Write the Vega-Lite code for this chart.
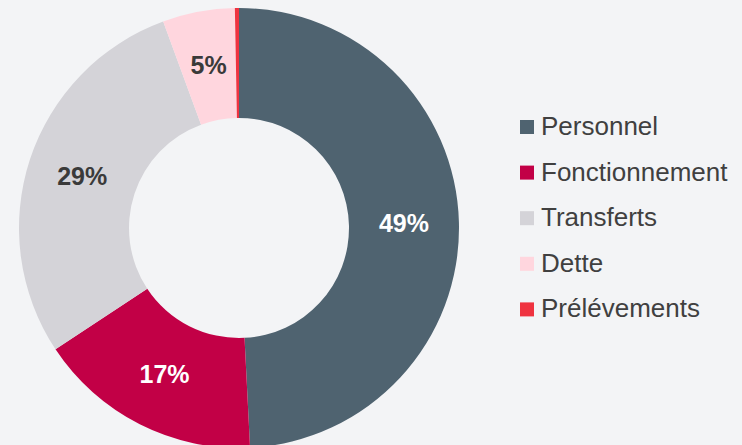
{
  "$schema": "https://vega.github.io/schema/vega-lite/v6.json",
  "autosize": "none",
  "width": 478,
  "height": 445,
  "padding": {"left": 0, "top": 0, "right": 264, "bottom": 0},
  "background": "#f3f4f6",
  "config": {"view": {"stroke": null}, "font": "Liberation Sans"},
  "data": {
    "values": [
      {"cat": "Personnel", "value": 49.2, "idx": 1, "label": "49%"},
      {"cat": "Fonctionnement", "value": 16.5, "idx": 2, "label": "17%"},
      {"cat": "Transferts", "value": 28.7, "idx": 3, "label": "29%"},
      {"cat": "Dette", "value": 5.3, "idx": 4, "label": "5%"},
      {"cat": "Prélévements", "value": 0.3, "idx": 5, "label": ""}
    ]
  },
  "encoding": {
    "theta": {"field": "value", "type": "quantitative", "stack": true},
    "order": {"field": "idx", "type": "quantitative"}
  },
  "layer": [
    {
      "mark": {"type": "arc", "innerRadius": 110, "outerRadius": 220, "yOffset": 5.5},
      "encoding": {
        "color": {
          "field": "cat",
          "type": "nominal",
          "scale": {
            "domain": ["Personnel", "Fonctionnement", "Transferts", "Dette", "Prélévements"],
            "range": ["#4f6370", "#c20046", "#d4d3d8", "#ffd6de", "#ef3340"]
          },
          "legend": {
            "title": null,
            "orient": "none",
            "legendX": 514,
            "legendY": 114,
            "symbolType": "square",
            "symbolSize": 196,
            "symbolStrokeWidth": 0,
            "labelFontSize": 26,
            "labelColor": "#404040",
            "labelFont": "Liberation Sans",
            "labelOffset": 1,
            "rowPadding": 19.6,
            "labelLimit": 300
          }
        }
      }
    },
    {
      "mark": {"type": "text", "radius": 165, "yOffset": 5.5, "fontSize": 25, "fontWeight": "bold", "font": "Liberation Sans"},
      "encoding": {
        "text": {"field": "label"},
        "color": {
          "condition": {"test": "datum.cat === 'Personnel' || datum.cat === 'Fonctionnement'", "value": "#ffffff"},
          "value": "#3a3a3a"
        }
      }
    }
  ]
}
